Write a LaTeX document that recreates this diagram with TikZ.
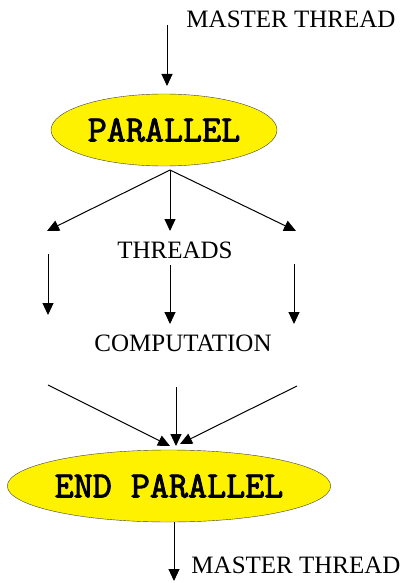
\documentclass[tikz,border=0pt]{standalone}
\usepackage{fontspec}
\setmainfont{Liberation Serif}
\newfontfamily\heavymono[FakeBold=2.5]{Latin Modern Mono}
\usetikzlibrary{shapes,positioning,arrows.meta}

\begin{document}
\begin{tikzpicture}[x=1pt,y=-1pt,
  txt/.style={inner sep=0pt,font=\fontsize{25}{25}\selectfont},
  block/.style={ellipse,draw=black!75,thin,fill=yellow,minimum height=72pt,inner sep=0pt,
    font=\heavymono\fontsize{37}{37}\selectfont},
  flow/.style={-{Triangle[length=12pt,width=11pt]},line width=1pt}]
\useasboundingbox (0,0) rectangle (409,583);
% text and blocks
\node[txt] (mastertop) at (291,19) {MASTER THREAD};
\node[block,minimum width=226pt] (par) at (164,130) {PARALLEL};
\node[txt] (threads) at (175,250) {THREADS};
\node[txt] (comp) at (183,343) {COMPUTATION};
\node[block,minimum width=308pt] (endpar) at (169,486) {END PARALLEL};
\node[txt] (masterbot) at (296,565) {MASTER THREAD};
% arrow ends
\coordinate (in) at (167,25);
\coordinate (inend) at (167,86);
\coordinate (fork) at (170,170);
\coordinate (fl) at (47,231);
\coordinate (fm) at (170,231);
\coordinate (fr) at (296,231);
\coordinate (tl) at (48,254);
\coordinate (tlend) at (48,315);
\coordinate (tm) at (170,265);
\coordinate (tmend) at (170,324);
\coordinate (tr) at (294,264);
\coordinate (trend) at (294,324);
\coordinate (jl) at (48,385);
\coordinate (jm) at (176,387);
\coordinate (jr) at (297,386);
\coordinate (jlend) at (170,446);
\coordinate (jmend) at (176,446);
\coordinate (jrend) at (180,444);
\coordinate (out) at (174,522);
\coordinate (outend) at (174,581);
% arrows
\draw[flow] (in) -- (inend);
\draw[flow] (fork) -- (fl);
\draw[flow] (fork) -- (fm);
\draw[flow] (fork) -- (fr);
\draw[flow] (tl) -- (tlend);
\draw[flow] (tm) -- (tmend);
\draw[flow] (tr) -- (trend);
\draw[flow] (jl) -- (jlend);
\draw[flow] (jm) -- (jmend);
\draw[flow] (jr) -- (jrend);
\draw[flow] (out) -- (outend);
\end{tikzpicture}
\end{document}
